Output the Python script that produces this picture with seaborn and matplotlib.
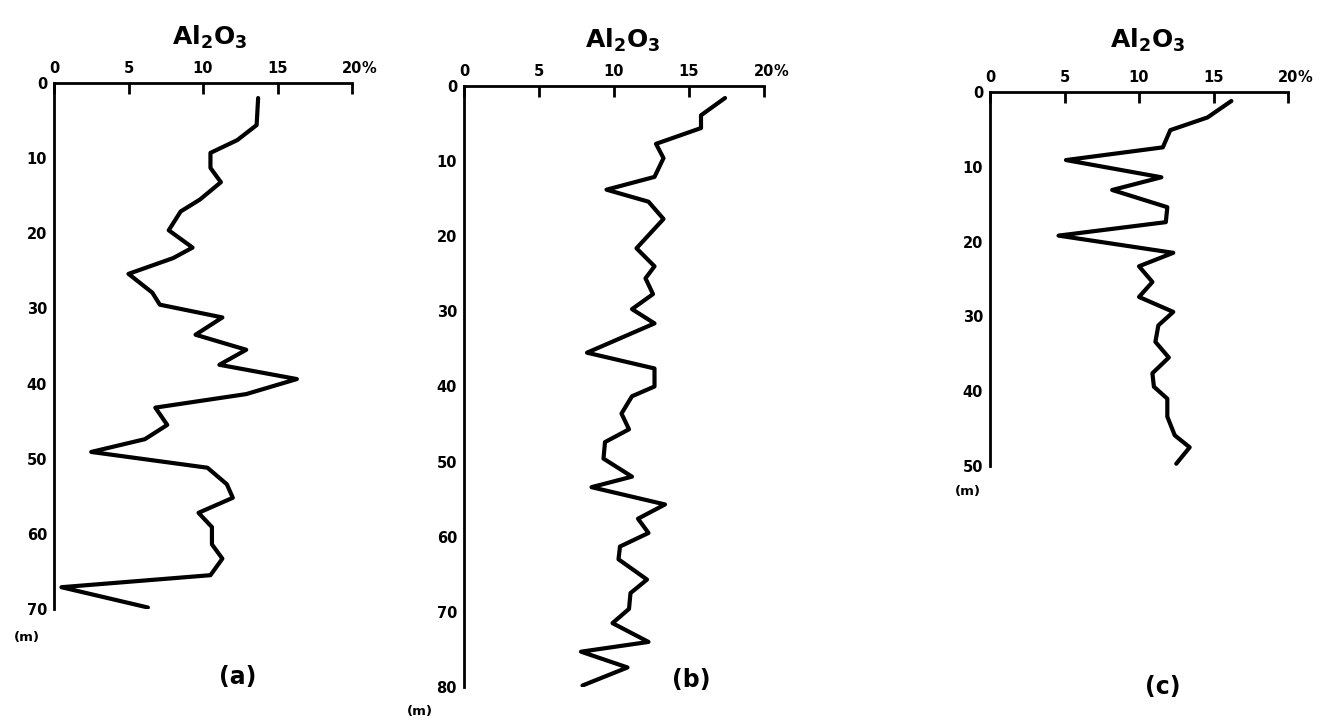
import matplotlib
matplotlib.use("Agg")
import matplotlib.pyplot as plt
import seaborn as sns
import pandas as pd

# ---- data (depth in m, Al2O3 in %) ----
depth_a = [2.0, 5.6, 7.6, 9.3, 11.3, 13.2, 15.5, 17.1, 19.6, 21.9, 23.3, 25.4, 27.9, 29.5,
           31.2, 33.5, 35.5, 37.5, 39.4, 41.4, 43.2, 45.5, 47.4, 49.1, 51.2, 53.4, 55.2,
           57.2, 59.1, 61.4, 63.3, 65.5, 67.1, 69.8]
al2o3_a = [13.7, 13.6, 12.3, 10.5, 10.5, 11.2, 9.8, 8.5, 7.7, 9.3, 8.0, 5.0, 6.6, 7.1,
           11.3, 9.5, 12.9, 11.1, 16.3, 12.9, 6.8, 7.6, 6.1, 2.5, 10.3, 11.6, 12.0,
           9.7, 10.6, 10.6, 11.3, 10.5, 0.5, 6.3]

depth_b = [1.6, 3.9, 5.6, 7.7, 9.6, 12.1, 13.8, 15.4, 17.7, 21.6, 24.0, 25.6, 27.7, 29.7,
           31.6, 35.5, 37.6, 40.0, 41.3, 43.6, 45.7, 47.4, 49.6, 52.0, 53.4, 55.7, 57.6,
           59.5, 61.3, 63.0, 65.7, 67.5, 69.6, 71.5, 74.0, 75.3, 77.4, 79.8]
al2o3_b = [17.4, 15.8, 15.8, 12.8, 13.3, 12.7, 9.5, 12.3, 13.3, 11.5, 12.7, 12.1, 12.6, 11.2,
           12.7, 8.2, 12.7, 12.7, 11.2, 10.5, 11.0, 9.4, 9.3, 11.2, 8.5, 13.4, 11.6,
           12.3, 10.4, 10.3, 12.2, 11.1, 11.0, 9.9, 12.3, 7.8, 10.9, 7.9]

depth_c = [1.2, 3.4, 5.1, 7.4, 9.1, 11.4, 13.1, 15.4, 17.4, 19.2, 21.5, 23.3, 25.4, 27.4,
           29.4, 31.2, 33.4, 35.5, 37.6, 39.4, 41.0, 43.4, 45.9, 47.5, 49.7]
al2o3_c = [16.2, 14.6, 12.1, 11.6, 5.1, 11.5, 8.2, 11.9, 11.8, 4.6, 12.3, 10.0, 10.9, 10.0,
           12.3, 11.3, 11.1, 12.0, 10.9, 11.0, 11.9, 11.9, 12.4, 13.4, 12.5]

x_ticks = [0, 5, 10, 15, 20]
x_ticklabels = ["0", "5", "10", "15", "20"]
title_text = r"$\mathbf{Al_2O_3}$"
panel_labels = ["(a)", "(b)", "(c)"]

sns.set_style("white")
plt.rcParams['font.family'] = ['DejaVu Sans']
plt.rcParams['text.color'] = 'black'

W, H = 1323, 721
fig = plt.figure(figsize=(W / 100, H / 100), dpi=100)
fig.patch.set_facecolor("white")

def frac_rect(l, r, t, b):
    return [l / W, 1 - b / H, (r - l) / W, (b - t) / H]

panels = [
    dict(depth=depth_a, val=al2o3_a, ymax=70, rect=frac_rect(54, 352, 83, 609),
         title=(210, 37), lab=(238, 677), m=(27, 637)),
    dict(depth=depth_b, val=al2o3_b, ymax=80, rect=frac_rect(464, 764, 86, 687),
         title=(623, 40), lab=(691, 680), m=(420, 712)),
    dict(depth=depth_c, val=al2o3_c, ymax=50, rect=frac_rect(990, 1288, 92, 466),
         title=(1148, 40), lab=(1163, 687), m=(968, 492)),
]

for p, plab in zip(panels, panel_labels):
    ax = fig.add_axes(p["rect"])
    df = pd.DataFrame({"val": p["val"], "depth": p["depth"]})
    sns.lineplot(data=df, x="val", y="depth", sort=False, estimator=None,
                 color="black", linewidth=3.0, ax=ax)
    ax.set_xlim(0, 20)
    ax.set_ylim(p["ymax"], 0)
    ax.set_xlabel("")
    ax.set_ylabel("")
    for s in ["right", "bottom"]:
        ax.spines[s].set_visible(False)
    for s in ["top", "left"]:
        ax.spines[s].set_linewidth(2.0)
        ax.spines[s].set_color("black")
    ax.xaxis.tick_top()
    ax.set_xticks(x_ticks)
    ax.set_xticklabels(x_ticklabels)
    ax.set_yticks(list(range(0, p["ymax"] + 1, 10)))
    ax.tick_params(axis="x", direction="in", length=8, width=2, pad=5,
                   labelsize=10.5, colors="black")
    ax.tick_params(axis="y", direction="in", length=8, width=2, pad=5,
                   labelsize=10.5, colors="black")
    for t in ax.get_xticklabels() + ax.get_yticklabels():
        t.set_fontweight("bold")
    ax.annotate("%", xy=(20, 0), xycoords="data", xytext=(7, 5),
                textcoords="offset points", ha="left", va="bottom",
                fontsize=10.5, fontweight="bold", annotation_clip=False)
    ax.patch.set_alpha(0)
    fig.text(p["title"][0] / W, 1 - p["title"][1] / H, title_text,
             ha="center", va="center", fontsize=18)
    fig.text(p["lab"][0] / W, 1 - p["lab"][1] / H, plab,
             ha="center", va="center", fontsize=17, fontweight="bold")
    fig.text(p["m"][0] / W, 1 - p["m"][1] / H, "(m)",
             ha="center", va="center", fontsize=9.5, fontweight="bold")

fig.savefig("out.png", dpi=100, facecolor="white")
